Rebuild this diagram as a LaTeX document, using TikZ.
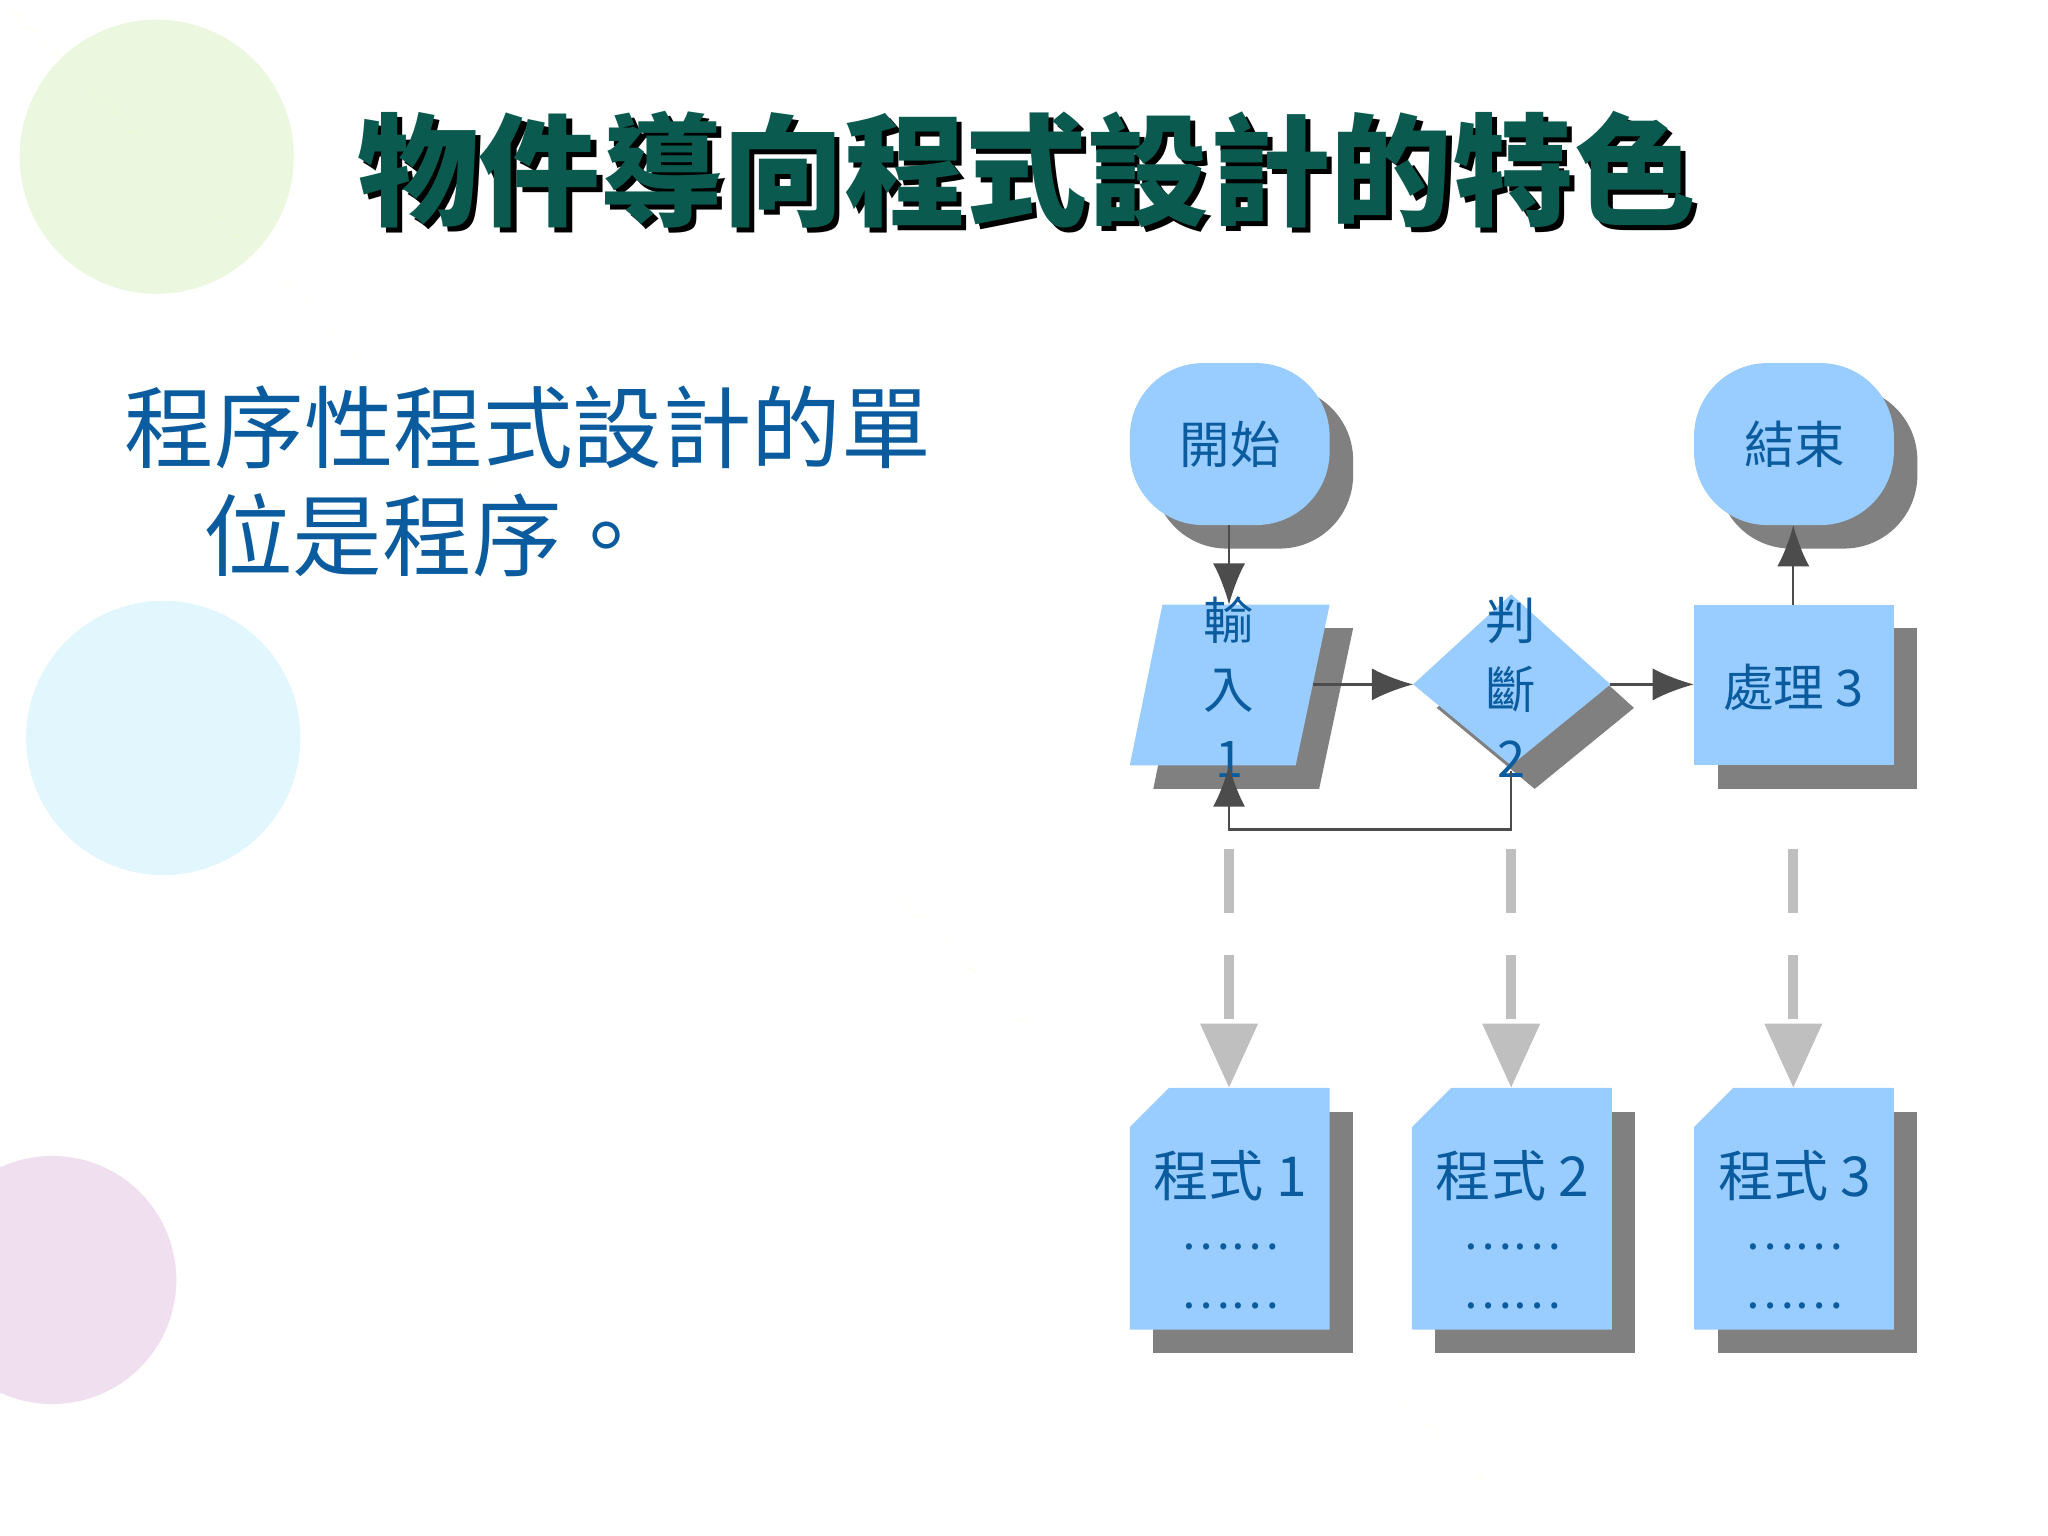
\documentclass[tikz,border=0pt]{standalone}
\usepackage{fontspec}
\setmainfont{Noto Sans CJK TC}
\usetikzlibrary{arrows.meta}
\definecolor{boxc}{HTML}{99CCFF}
\definecolor{shd}{HTML}{808080}
\definecolor{txtb}{HTML}{0B5C9E}
\definecolor{ttl}{HTML}{0A5A50}
\tikzset{
  sh/.style={fill=shd,draw=none},
  bx/.style={fill=boxc,draw=none},
  lbl/.style={text=txtb,font=\fontsize{11}{13}\selectfont,inner sep=0pt},
  flow/.style={draw=black!70,line width=0.5pt,-{Latex[length=9pt,width=7pt]}},
  dashline/.style={draw=black!25,line width=2.2pt,dash pattern=on 14pt off 9pt,-{Triangle[length=14pt,width=12pt]}}
}
\begin{document}
\begin{tikzpicture}[x=0.01cm,y=-0.01cm]
\useasboundingbox (0,0) rectangle (1568,1176);
% balloons
\fill[yellow!40!green!25,opacity=0.5] (120,120) circle (105);
\fill[cyan!25,opacity=0.45] (125,565) circle (105);
\fill[violet!25,opacity=0.5] (40,980) circle (95);
\foreach \a/\b/\c/\d in {230,5,250,30, 270,40,310,20, 60,370,75,410, 10,720,45,690, 140,700,165,740, 80,740,70,780, 180,1070,215,1095, 100,1090,85,1130}
  \fill[yellow!60,opacity=0.6] (\a,\b) -- (\c,\d) -- (\c+8,\d+4) -- cycle;
% title
\node[text=black,font=\bfseries\fontsize{26.5}{30}\selectfont,inner sep=0pt] at (790,134) {物件導向程式設計的特色};
\node[text=ttl,font=\bfseries\fontsize{26.5}{30}\selectfont,inner sep=0pt] (title) at (786,130) {物件導向程式設計的特色};
% body
\node[text=txtb,font=\fontsize{19.5}{24}\selectfont,anchor=west,inner sep=0pt] (l1) at (95,327) {程序性程式設計的單};
\node[text=txtb,font=\fontsize{19.5}{24}\selectfont,anchor=west,inner sep=0pt] (l2) at (155,410) {位是程序。};
% start / end
\foreach \x/\n/\t in {865/s/開始,1297/e/結束}{
  \fill[sh,rounded corners=16pt] (\x+18,296) rectangle (\x+171,420);
  \fill[bx,rounded corners=16pt] (\x,278) rectangle (\x+153,402);
  \node[lbl] (\n) at (\x+77,340) {\t};
}
\coordinate (sb) at (941,402); \coordinate (eb) at (1373,402);
% input parallelogram
\fill[sh] (908,481) -- (1036,481) -- (1010,604) -- (883,604) -- cycle;
\fill[bx] (890,463) -- (1018,463) -- (992,586) -- (865,586) -- cycle;
\node[lbl,align=center] (in) at (941,526) {輸\\[2pt]入\\[2pt]1};
\coordinate (int) at (941,463); \coordinate (inr) at (1005,524); \coordinate (inb) at (941,586);
% decision
\fill[sh] (1100,542) -- (1175,473) -- (1251,542) -- (1175,604) -- cycle;
\fill[bx] (1082,524) -- (1157,455) -- (1233,524) -- (1157,586) -- cycle;
\node[lbl,align=center] (dec) at (1157,526) {判\\[2pt]斷\\[2pt]2};
\coordinate (dl) at (1082,524); \coordinate (dr) at (1233,524); \coordinate (db) at (1157,590);
% process 3
\fill[sh] (1315,481) rectangle (1468,604);
\fill[bx] (1297,463) rectangle (1450,586);
\node[lbl] (p3) at (1373,526) {處理 3};
\coordinate (p3l) at (1297,524); \coordinate (p3t) at (1373,463);
% flows
\draw[flow] (sb) -- (int);
\draw[flow] (inr) -- (dl);
\draw[flow] (dr) -- (p3l);
\draw[flow] (p3t) -- (eb);
\draw[flow] (db) -- (1157,635) -| (inb);
% programs
\foreach \x/\n/\k in {865/pa/1,1081/pb/2,1297/pc/3}{
  \fill[sh] (\x+18,851) rectangle (\x+171,1036);
  \fill[bx] (\x+30,833) -- (\x+153,833) -- (\x+153,1018) -- (\x,1018) -- (\x,863) -- cycle;
  \node[lbl,font=\fontsize{12}{14}\selectfont] (\n) at (\x+77,900) {程式 \k};
  \node[lbl,font=\fontsize{10}{12}\selectfont] (\n d1) at (\x+77,955) {……};
  \node[lbl,font=\fontsize{10}{12}\selectfont] (\n d2) at (\x+77,1000) {……};
  \coordinate (\n t) at (\x+76,833);
  \coordinate (\n s) at (\x+76,650);
}
\draw[dashline] (pas) -- (pat);
\draw[dashline] (pbs) -- (pbt);
\draw[dashline] (pcs) -- (pct);
\end{tikzpicture}
\end{document}
